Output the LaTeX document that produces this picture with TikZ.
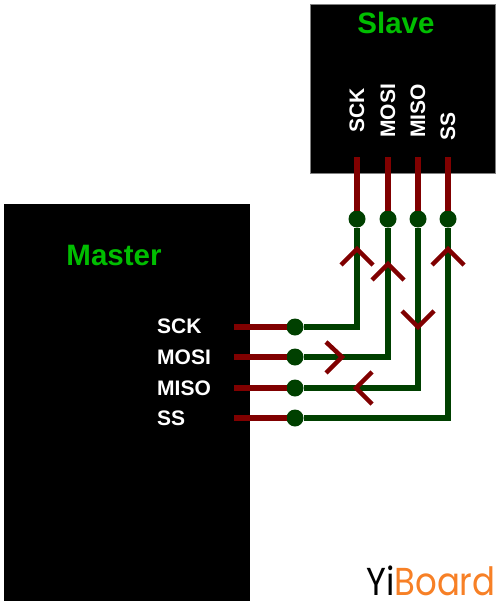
\documentclass[tikz,border=0pt]{standalone}
\usepackage{fontspec}
\setmainfont{Liberation Sans}
\newfontfamily\logofont{Poppins}
\definecolor{wirered}{RGB}{128,0,0}
\definecolor{wiregreen}{RGB}{0,64,0}
\definecolor{titlegreen}{RGB}{0,190,0}
\definecolor{logoorange}{RGB}{247,128,38}
\tikzset{
  chip/.style={fill=black,draw=black!50!white,line width=0.5pt,inner sep=0,outer sep=0,anchor=north west},
  title/.style={text=titlegreen,font=\bfseries\fontsize{29.5}{31}\selectfont,inner sep=0},
  pin/.style={text=white,font=\bfseries\fontsize{21}{23}\selectfont,inner sep=0},
  vpin/.style={pin,rotate=90,anchor=west},
  hpin/.style={pin,anchor=west},
  dot/.style={circle,fill=wiregreen,minimum size=17pt,inner sep=0,outer sep=0},
  stub/.style={draw=wirered,line width=6pt},
  wire/.style={draw=wiregreen,line width=6pt,line join=miter},
  chev/.style={draw=wirered,line width=4.5pt,line join=miter},
}
\begin{document}
\begin{tikzpicture}[x=1pt,y=-1pt]
\useasboundingbox (0,0) rectangle (500,610);
\node[chip,minimum width=185pt,minimum height=169pt] (slave) at (310,4) {};
\node[chip,minimum width=246pt,minimum height=397pt,draw=none] (master) at (4,204) {};
\node[title] (slavet) at (396,23) {Slave};
\node[title] (mastert) at (114,255) {Master};
% Slave pin labels
\node[vpin] (s1) at (357,133) {SCK};
\node[vpin] (s2) at (388,138) {MOSI};
\node[vpin] (s3) at (418,138) {MISO};
\node[vpin] (s4) at (448,141) {SS};
% Master pin labels
\node[hpin] (m1) at (157,326) {SCK};
\node[hpin] (m2) at (157,357) {MOSI};
\node[hpin] (m3) at (157,388) {MISO};
\node[hpin] (m4) at (157,418) {SS};
% pin stubs
\coordinate (sa) at (357,157);
\coordinate (sb) at (388,157);
\coordinate (sc) at (418,157);
\coordinate (sd) at (448,157);
\coordinate (ma) at (234,327);
\coordinate (mb) at (234,357);
\coordinate (mc) at (234,388);
\coordinate (md) at (234,418);
% dots
\node[dot] (d1) at (357,219) {};
\node[dot] (d2) at (388,219) {};
\node[dot] (d3) at (418,219) {};
\node[dot] (d4) at (448,219) {};
\node[dot] (e1) at (295,327) {};
\node[dot] (e2) at (295,357) {};
\node[dot] (e3) at (295,388) {};
\node[dot] (e4) at (295,418) {};
% green wires
\draw[wire] (e1) -| (d1);
\draw[wire] (e2) -| (d2);
\draw[wire] (e3) -| (d3);
\draw[wire] (e4) -| (d4);
% red stubs
\draw[stub] (sa) -- (d1);
\draw[stub] (sb) -- (d2);
\draw[stub] (sc) -- (d3);
\draw[stub] (sd) -- (d4);
\draw[stub] (ma) -- (e1);
\draw[stub] (mb) -- (e2);
\draw[stub] (mc) -- (e3);
\draw[stub] (md) -- (e4);
% chevrons
\draw[chev] (341,265) -- (357,249) -- (373,265);
\draw[chev] (372,280) -- (388,264) -- (404,280);
\draw[chev] (432,265) -- (448,249) -- (464,265);
\draw[chev] (402,311) -- (418,327) -- (434,311);
\draw[chev] (326,342) -- (342,357) -- (326,373);
\draw[chev] (372,372) -- (356,388) -- (372,404);
% logo
\node[anchor=base west,inner sep=0,xscale=1.03,yscale=1.18,font=\logofont\fontsize{33}{35}\selectfont] (logo) at (366,595) {\textcolor{black}{Yi}\textcolor{logoorange}{Board}};
\end{tikzpicture}
\end{document}
